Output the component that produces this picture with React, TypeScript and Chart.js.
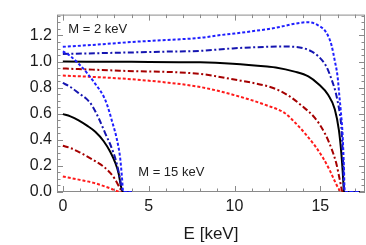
import React, { useEffect, useRef } from "react";
import { Chart, registerables } from "chart.js";
Chart.register(...registerables);

// ---- tick values ----
const xTicks = [0, 5, 10, 15];
const yTicks = [0, 0.2, 0.4, 0.6, 0.8, 1.0, 1.2];

// ---- M = 2 keV group (endpoint ~16.4 keV) ----
const eBlueDotB = [0, 2, 4, 6, 8, 9, 10, 11, 12, 12.8, 13.5, 14.29, 14.87, 15.36, 15.65, 15.84, 16.0, 16.1, 16.19, 16.29, 16.37, 16.42, 17.3];
const yBlueDotB = [1.113, 1.13, 1.15, 1.165, 1.182, 1.2, 1.215, 1.232, 1.25, 1.27, 1.29, 1.302, 1.278, 1.219, 1.125, 1.006, 0.888, 0.746, 0.62, 0.45, 0.2, 0, 0];

const eBlueDashB = [0, 2, 4, 6, 8, 9.9, 11.9, 12.8, 13.52, 14.29, 14.87, 15.36, 15.65, 15.88, 16.0, 16.13, 16.22, 16.32, 16.4, 17.3];
const yBlueDashB = [1.058, 1.064, 1.07, 1.076, 1.082, 1.101, 1.113, 1.115, 1.113, 1.09, 1.042, 0.959, 0.864, 0.77, 0.7, 0.604, 0.5, 0.25, 0, 0];

const eBlackB = [0, 4, 8, 9.9, 11.9, 12.4, 13.5, 14.3, 14.9, 15.45, 15.84, 16.08, 16.23, 16.33, 16.37, 17.3];
const yBlackB = [1.0, 0.998, 0.994, 0.983, 0.962, 0.955, 0.923, 0.886, 0.826, 0.745, 0.635, 0.474, 0.284, 0.095, 0, 0];

const eDarkRedB = [0, 3.3, 8, 9.9, 11.9, 12.4, 13.13, 13.9, 14.68, 15.26, 15.65, 15.94, 16.13, 16.3, 17.3];
const yDarkRedB = [0.947, 0.93, 0.905, 0.864, 0.812, 0.79, 0.74, 0.663, 0.568, 0.45, 0.332, 0.213, 0.095, 0, 0];

const eRedB = [0, 3.3, 6, 8, 9.9, 11.9, 12.94, 13.52, 14.1, 14.68, 15.16, 15.55, 15.84, 16.13, 16.27, 17.3];
const yRedB = [0.893, 0.871, 0.84, 0.805, 0.746, 0.663, 0.604, 0.533, 0.45, 0.355, 0.26, 0.166, 0.083, 0.012, 0, 0];

// ---- M = 15 keV group (endpoint ~3.52 keV) ----
const eBlueDotA = [0, 0.44, 0.92, 1.41, 1.89, 2.37, 2.6, 2.86, 3.15, 3.34, 3.44, 3.52, 4.02];
const yBlueDotA = [1.078, 1.042, 0.983, 0.912, 0.829, 0.734, 0.66, 0.545, 0.403, 0.26, 0.119, 0, 0];

const eBlueDashA = [0, 0.44, 0.92, 1.41, 1.7, 2.08, 2.47, 2.86, 3.15, 3.34, 3.46, 3.52, 4.02];
const yBlueDashA = [0.836, 0.805, 0.758, 0.71, 0.663, 0.568, 0.45, 0.332, 0.213, 0.095, 0.012, 0, 0];

const eBlackA = [0, 0.44, 0.92, 1.41, 1.89, 2.37, 2.76, 3.05, 3.25, 3.38, 3.5, 4.02];
const yBlackA = [0.597, 0.58, 0.55, 0.509, 0.462, 0.391, 0.308, 0.225, 0.142, 0.048, 0, 0];

const eDarkRedA = [0, 0.44, 0.92, 1.41, 1.89, 2.37, 2.76, 3.05, 3.3, 3.48, 4.02];
const yDarkRedA = [0.355, 0.337, 0.308, 0.273, 0.237, 0.195, 0.147, 0.095, 0.036, 0, 0];

const eRedA = [0, 0.92, 1.89, 2.76, 3.38, 4.02];
const yRedA = [0.119, 0.095, 0.067, 0.028, 0, 0];

// ---- annotations ----
const labels = [
  { text: "M = 2 keV", e: 0.32, v: 1.243 },
  { text: "M = 15 keV", e: 4.39, v: 0.147 },
];

const FONT = "'Liberation Sans', Arial, sans-serif";

const pts = (xs: number[], ys: number[]) => xs.map((x, i) => ({ x, y: ys[i] }));

const BLUE = "#1f1fff";
const BLUE2 = "#1515b0";
const DARKRED = "#a50000";
const RED = "#ff1a1a";
const DOT = [3, 2];
const DASHDOT = [6, 2.5, 2, 2.5];

const framePlugin = {
  id: "frame",
  beforeDatasetsDraw(chart: any) {
    const { ctx, chartArea: a, scales } = chart;
    const sx = scales.x, sy = scales.y;
    ctx.save();
    ctx.strokeStyle = "#8a8a8a";
    ctx.lineWidth = 1;
    ctx.strokeRect(a.left + 0.5, a.top + 0.5, a.right - a.left - 1, a.bottom - a.top - 1);
    ctx.beginPath();
    for (let v = 0; v <= 17; v++) {
      const px = Math.round(sx.getPixelForValue(v)) + 0.5;
      const len = v % 5 === 0 ? 6 : 3.5;
      ctx.moveTo(px, a.bottom);
      ctx.lineTo(px, a.bottom - len);
      ctx.moveTo(px, a.top);
      ctx.lineTo(px, a.top + len);
    }
    for (let i = 0; i <= 27; i++) {
      const v = i * 0.05;
      const py = Math.round(sy.getPixelForValue(v)) + 0.5;
      const len = i % 4 === 0 ? 6 : 3.5;
      ctx.moveTo(a.left, py);
      ctx.lineTo(a.left + len, py);
      ctx.moveTo(a.right, py);
      ctx.lineTo(a.right - len, py);
    }
    ctx.stroke();
    ctx.restore();
  },
  afterDatasetsDraw(chart: any) {
    const { ctx, scales } = chart;
    ctx.save();
    ctx.fillStyle = "#222";
    ctx.font = `13px ${FONT}`;
    ctx.textBaseline = "middle";
    ctx.textAlign = "left";
    for (const l of labels) {
      ctx.fillText(l.text, scales.x.getPixelForValue(l.e), scales.y.getPixelForValue(l.v));
    }
    ctx.restore();
  },
};

export default function App() {
  const ref = useRef<HTMLCanvasElement | null>(null);
  useEffect(() => {
    document.body.style.margin = "0";
    const canvas = ref.current!;
    const mk = (label: string, xs: number[], ys: number[], color: string, dash: number[], w = 2) => ({
      label,
      data: pts(xs, ys),
      borderColor: color,
      borderWidth: w,
      borderDash: dash,
      pointRadius: 0,
      fill: false,
      cubicInterpolationMode: "monotone" as const,
    });
    const chart = new Chart(canvas, {
      type: "line",
      data: {
        datasets: [
          mk("blueDotA", eBlueDotA, yBlueDotA, BLUE, DOT),
          mk("blueDotB", eBlueDotB, yBlueDotB, BLUE, DOT),
          mk("blueDashA", eBlueDashA, yBlueDashA, BLUE2, DASHDOT),
          mk("blueDashB", eBlueDashB, yBlueDashB, BLUE2, DASHDOT),
          mk("blackA", eBlackA, yBlackA, "#000", [], 2),
          mk("blackB", eBlackB, yBlackB, "#000", [], 2),
          mk("darkRedA", eDarkRedA, yDarkRedA, DARKRED, DASHDOT),
          mk("darkRedB", eDarkRedB, yDarkRedB, DARKRED, DASHDOT),
          mk("redA", eRedA, yRedA, RED, DOT),
          mk("redB", eRedB, yRedB, RED, DOT),
        ],
      },
      options: {
        animation: false,
        responsive: false,
        layout: { padding: { top: 1, right: 1, left: 0, bottom: 0 } },
        plugins: { legend: { display: false }, tooltip: { enabled: false } },
        scales: {
          x: {
            type: "linear",
            min: -0.34,
            max: 17.6,
            grid: { display: false, drawTicks: false },
            border: { display: false },
            afterBuildTicks: (s: any) => { s.ticks = xTicks.map((v) => ({ value: v })); },
            afterFit: (s: any) => { s.height = 53; },
            ticks: {
              padding: 5,
              maxRotation: 0,
              autoSkip: false,
              color: "#1a1a1a",
              font: { family: FONT, size: 16 },
              callback: (v: any) => String(v),
            },
            title: {
              display: true,
              text: "E [keV]",
              color: "#1a1a1a",
              font: { family: FONT, size: 17 },
              padding: { top: 0, bottom: 0 },
            },
          },
          y: {
            type: "linear",
            min: 0,
            max: 1.36,
            grid: { display: false, drawTicks: false },
            border: { display: false },
            afterBuildTicks: (s: any) => { s.ticks = yTicks.map((v) => ({ value: v })); },
            afterFit: (s: any) => { s.width = 57; },
            ticks: {
              padding: 5,
              autoSkip: false,
              color: "#1a1a1a",
              font: { family: FONT, size: 16 },
              callback: (v: any) => Number(v).toFixed(1),
            },
          },
        },
      },
      plugins: [framePlugin],
    });
    return () => chart.destroy();
  }, []);
  return <canvas ref={ref} width={366} height={245} style={{ display: "block" }} />;
}
